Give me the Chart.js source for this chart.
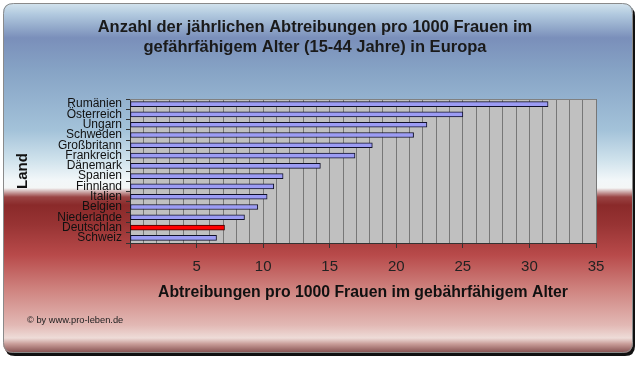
<!DOCTYPE html>
<html>
<head>
<meta charset="utf-8">
<script src="https://cdn.jsdelivr.net/npm/chart.js@4/dist/chart.umd.min.js"></script>
<style>
html,body{margin:0;padding:0;background:#ffffff;}
#wrap{width:640px;height:365px;position:relative;}
</style>
</head>
<body>
<div id="wrap"><canvas id="c" width="640" height="365"></canvas></div>
<script>
const countries = ["Rumänien","Österreich","Ungarn","Schweden","Großbritann","Frankreich","Dänemark","Spanien","Finnland","Italien","Belgien","Niederlande","Deutschlan","Schweiz"];
const rates = [31.4, 25.0, 22.3, 21.3, 18.2, 16.9, 14.3, 11.5, 10.8, 10.3, 9.6, 8.6, 7.1, 6.5];
const highlight = "Deutschlan";
const titleLines = ["Anzahl der jährlichen Abtreibungen pro 1000 Frauen im", "gefährfähigem Alter (15-44 Jahre) in Europa"];
const xTitle = "Abtreibungen pro 1000 Frauen im gebährfähigem Alter";
const yTitle = "Land";
const footer = "© by www.pro-leben.de";
const xMin = 0, xMax = 35, xLabelStep = 5;

const FONT = "'Liberation Sans', Arial, sans-serif";

function roundRect(ctx, x, y, w, h, r) {
  ctx.beginPath();
  ctx.moveTo(x + r, y);
  ctx.lineTo(x + w - r, y);
  ctx.quadraticCurveTo(x + w, y, x + w, y + r);
  ctx.lineTo(x + w, y + h - r);
  ctx.quadraticCurveTo(x + w, y + h, x + w - r, y + h);
  ctx.lineTo(x + r, y + h);
  ctx.quadraticCurveTo(x, y + h, x, y + h - r);
  ctx.lineTo(x, y + r);
  ctx.quadraticCurveTo(x, y, x + r, y);
  ctx.closePath();
}

const bgPlugin = {
  id: 'bg',
  beforeDraw(chart) {
    const ctx = chart.ctx;
    ctx.save();
    ctx.fillStyle = '#111';
    roundRect(ctx, 5, 6, 630, 350, 10);
    ctx.fill();
    const g = ctx.createLinearGradient(0, 3, 0, 354);
    const stops = [
      [3, '#d4e4ee'], [14, '#b2cadf'], [38, '#7a8fba'], [70, '#86a3c5'],
      [130, '#a3c2d9'], [160, '#cfe2ec'], [180, '#f2f7f9'], [188, '#f4f6f6'],
      [197, '#9a4444'], [205, '#8a2a2a'], [225, '#983434'], [255, '#b84a4a'],
      [290, '#cf8480'], [325, '#e2b8b4'], [338, '#eedcd8'], [344, '#c89c98'], [354, '#7a4444']
    ];
    for (const [y, c] of stops) g.addColorStop((y - 3) / 351, c);
    ctx.fillStyle = g;
    roundRect(ctx, 3, 3, 630, 350, 10);
    ctx.fill();
    ctx.strokeStyle = '#8a8a8a';
    ctx.lineWidth = 1;
    roundRect(ctx, 3.5, 3.5, 629, 349, 10);
    ctx.stroke();
    const a = chart.chartArea;
    ctx.fillStyle = '#c0c0c0';
    ctx.fillRect(a.left, a.top, a.right - a.left, a.bottom - a.top);
    ctx.restore();
  },
  afterDraw(chart) {
    const ctx = chart.ctx;
    const a = chart.chartArea;
    ctx.save();
    ctx.strokeStyle = '#808080';
    ctx.lineWidth = 1;
    ctx.beginPath();
    ctx.moveTo(a.left, a.top + 0.5);
    ctx.lineTo(a.right, a.top + 0.5);
    ctx.stroke();
    // title
    ctx.fillStyle = '#1a1a1a';
    ctx.font = 'bold 16.5px ' + FONT;
    ctx.textBaseline = 'middle';
    ctx.textAlign = 'center';
    titleLines.forEach((t, i) => ctx.fillText(t, 315, 27 + i * 20));
    // footer
    ctx.fillStyle = '#222';
    ctx.font = '9.3px ' + FONT;
    ctx.textAlign = 'left';
    ctx.fillText(footer, 27, 320);
    ctx.restore();
  }
};

new Chart(document.getElementById('c'), {
  type: 'bar',
  data: {
    labels: countries,
    datasets: [{
      data: rates,
      backgroundColor: countries.map(c => c === highlight ? '#ff0000' : '#9c9cf4'),
      borderColor: countries.map(c => c === highlight ? '#3a0000' : '#10102a'),
      borderWidth: 1,
      borderSkipped: false,
      barThickness: 5
    }]
  },
  plugins: [bgPlugin],
  options: {
    indexAxis: 'y',
    responsive: false,
    animation: false,
    devicePixelRatio: 1,
    layout: { padding: { left: 0, right: 44, top: 99, bottom: 0 } },
    plugins: {
      legend: { display: false },
      tooltip: { enabled: false },
      title: { display: false }
    },
    scales: {
      x: {
        type: 'linear',
        min: xMin, max: xMax,
        afterFit(s) { s.height = 122; },
        ticks: {
          stepSize: 1,
          autoSkip: false,
          maxRotation: 0,
          padding: 10,
          color: '#222',
          font: { family: FONT, size: 15 },
          callback: v => (v % xLabelStep === 0 && v !== 0) ? String(v) : ''
        },
        grid: {
          color: '#777',
          lineWidth: 1,
          tickLength: 5,
          tickColor: c => (c.tick && c.tick.value % xLabelStep === 0) ? '#333' : 'rgba(0,0,0,0)'
        },
        border: { display: true, color: '#333', width: 1 },
        title: {
          display: true,
          text: xTitle,
          color: '#111',
          font: { family: FONT, size: 15.8, weight: 'bold', lineHeight: 1.2 },
          padding: { top: 0, bottom: 63 }
        }
      },
      y: {
        afterFit(s) { s.width = 130; },
        ticks: {
          autoSkip: false,
          padding: 4,
          color: '#111',
          font: { family: FONT, size: 12, lineHeight: 1 }
        },
        grid: {
          drawOnChartArea: false,
          offset: true,
          tickLength: 4,
          tickColor: '#333'
        },
        border: { display: true, color: '#333', width: 1 },
        title: {
          display: true,
          text: yTitle,
          color: '#111',
          font: { family: FONT, size: 15, weight: 'bold', lineHeight: 1.2 },
          padding: { top: 14, bottom: 0 }
        }
      }
    }
  }
});
</script>
</body>
</html>
